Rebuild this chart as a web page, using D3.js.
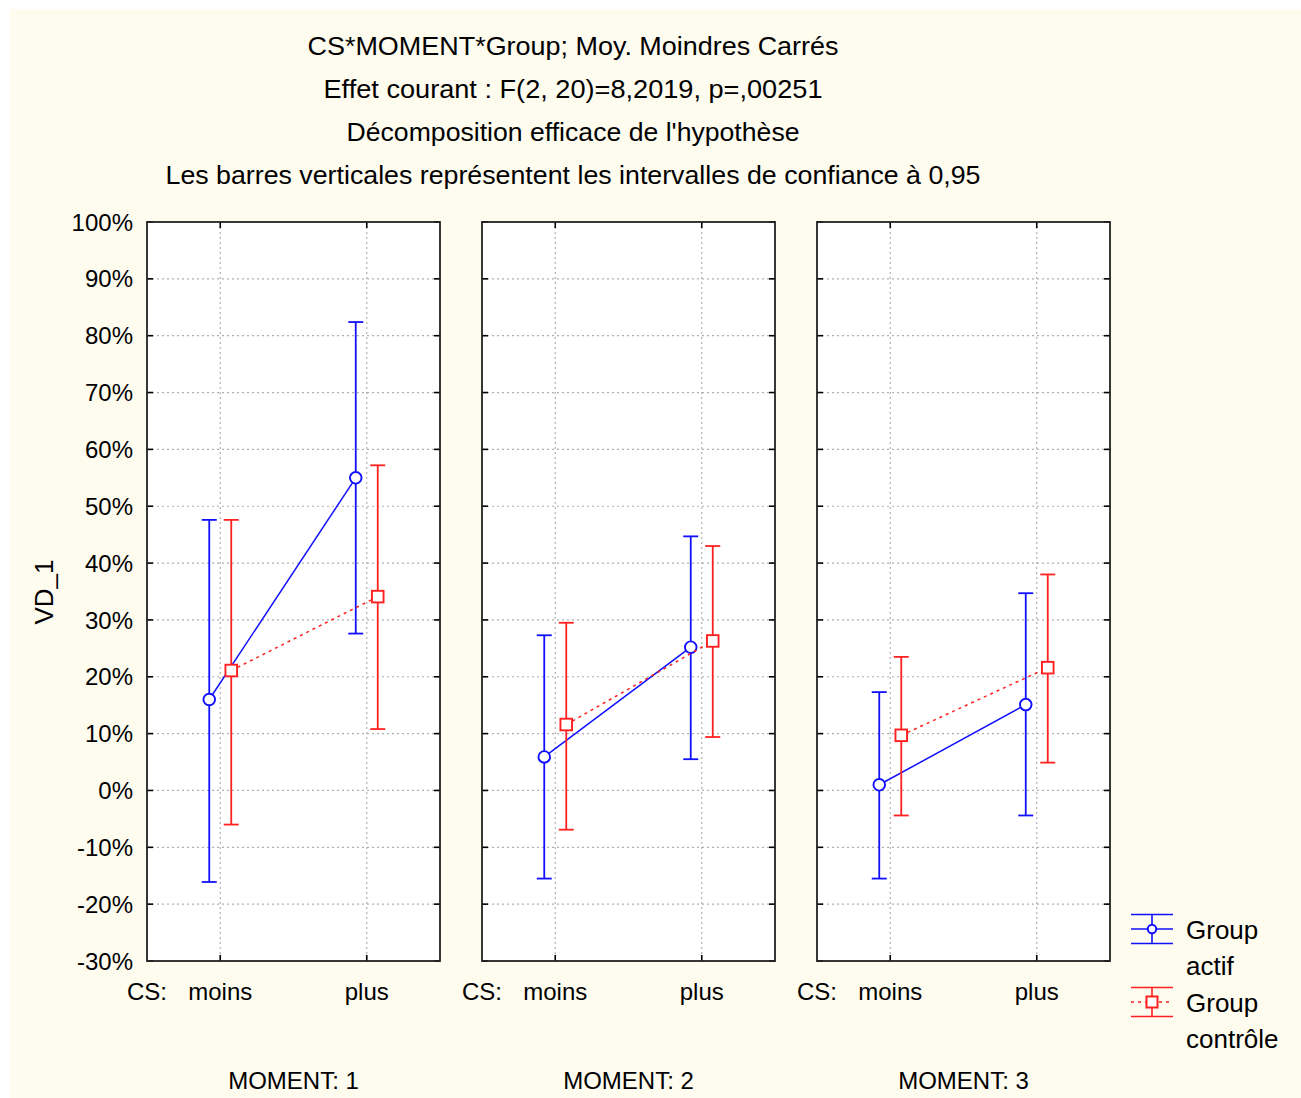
<!DOCTYPE html>
<html>
<head>
<meta charset="utf-8">
<script src="https://cdn.jsdelivr.net/npm/d3@7"></script>
<style>
  html, body { margin: 0; padding: 0; background: #ffffff; }
  svg { display: block; }
  text { font-family: "Liberation Sans", Arial, sans-serif; fill: #000; }
</style>
</head>
<body>
<script>
// ---------- data ----------
const titleLines = [
  "CS*MOMENT*Group; Moy. Moindres Carrés",
  "Effet courant : F(2, 20)=8,2019, p=,00251",
  "Décomposition efficace de l'hypothèse",
  "Les barres verticales représentent les intervalles de confiance à 0,95"
];
const moments = ["MOMENT: 1", "MOMENT: 2", "MOMENT: 3"];
const csLevels = ["moins", "plus"];
const groups = ["Group actif", "Group contrôle"];
const yTicks = [-30, -20, -10, 0, 10, 20, 30, 40, 50, 60, 70, 80, 90, 100];

// order: M1 moins, M1 plus, M2 moins, M2 plus, M3 moins, M3 plus
const actifMean     = [16.0, 55.0,  5.9, 25.2,   1.0, 15.1];
const actifLow      = [-16.1, 27.6, -15.5, 5.5, -15.5, -4.4];
const actifHigh     = [47.6, 82.4, 27.3, 44.7,  17.3, 34.7];
const controleMean  = [21.1, 34.1, 11.6, 26.3,   9.7, 21.6];
const controleLow   = [-6.0, 10.8, -6.9,  9.4,  -4.4,  4.9];
const controleHigh  = [47.6, 57.2, 29.5, 43.0,  23.5, 38.0];

// ---------- layout ----------
const W = 1301, H = 1098;
const plotTop = 222, plotBottom = 961, plotLeft = 147, plotRight = 1110;
const BLUE = "#1010ff", RED = "#ff2020";

const svg = d3.select("body").append("svg").attr("width", W).attr("height", H);
svg.append("rect").attr("x", 10).attr("y", 9).attr("width", W - 10).attr("height", H - 9).attr("fill", "#fefbef");

// titles
const titleWidths = [531, 499, 453, 815];
const titleBase = [55, 98, 141, 184];
titleLines.forEach((t, i) => {
  svg.append("text").attr("x", 573).attr("y", titleBase[i]).attr("text-anchor", "middle")
    .attr("font-size", 26).attr("textLength", titleWidths[i]).attr("lengthAdjust", "spacingAndGlyphs").text(t);
});

const y = d3.scaleLinear().domain([-30, 100]).range([plotBottom, plotTop]);
const panelScale = d3.scaleBand().domain(moments).range([plotLeft, plotRight]).paddingInner(42 / 335).paddingOuter(0);
const bw = panelScale.bandwidth();
const xIn = d3.scalePoint().domain(csLevels).range([0, bw]).padding(0.5);

// y axis labels
svg.append("g").selectAll("text").data(yTicks).join("text")
  .attr("x", 133).attr("y", d => y(d)).attr("dy", "0.36em").attr("text-anchor", "end")
  .attr("font-size", 24).text(d => d + "%");

svg.append("text").attr("transform", "translate(53,592) rotate(-90)").attr("text-anchor", "middle")
  .attr("font-size", 26).text("VD_1");

const series = [
  { name: groups[0], color: BLUE, mean: actifMean, low: actifLow, high: actifHigh, off: -11, dash: null, shape: "circle" },
  { name: groups[1], color: RED, mean: controleMean, low: controleLow, high: controleHigh, off: 11, dash: "3,4", shape: "square" }
];

moments.forEach((m, pi) => {
  const x0 = panelScale(m);
  const g = svg.append("g").attr("transform", `translate(${x0},0)`);
  g.append("rect").attr("x", 0).attr("y", plotTop).attr("width", bw).attr("height", plotBottom - plotTop).attr("fill", "#ffffff");

  // grid
  g.selectAll(".hg").data(yTicks.slice(1, -1)).join("line")
    .attr("x1", 0).attr("x2", bw).attr("y1", d => y(d)).attr("y2", d => y(d))
    .attr("stroke", "#b0b0b0").attr("stroke-width", 1.2).attr("stroke-dasharray", "2,3");
  g.selectAll(".vg").data(csLevels).join("line")
    .attr("x1", d => xIn(d)).attr("x2", d => xIn(d)).attr("y1", plotTop).attr("y2", plotBottom)
    .attr("stroke", "#b0b0b0").attr("stroke-width", 1.2).attr("stroke-dasharray", "2,3");

  // tick marks
  const tl = 6;
  g.selectAll(".tl").data(yTicks).join("line")
    .attr("x1", 0).attr("x2", tl).attr("y1", d => y(d)).attr("y2", d => y(d)).attr("stroke", "#000").attr("stroke-width", 1.6);
  g.selectAll(".tr").data(yTicks).join("line")
    .attr("x1", bw - tl).attr("x2", bw).attr("y1", d => y(d)).attr("y2", d => y(d)).attr("stroke", "#000").attr("stroke-width", 1.6);
  g.selectAll(".tt").data(csLevels).join("line")
    .attr("x1", d => xIn(d)).attr("x2", d => xIn(d)).attr("y1", plotTop).attr("y2", plotTop + tl).attr("stroke", "#000").attr("stroke-width", 1.6);
  g.selectAll(".tb").data(csLevels).join("line")
    .attr("x1", d => xIn(d)).attr("x2", d => xIn(d)).attr("y1", plotBottom - tl).attr("y2", plotBottom).attr("stroke", "#000").attr("stroke-width", 1.6);

  // frame
  g.append("rect").attr("x", 0).attr("y", plotTop).attr("width", bw).attr("height", plotBottom - plotTop)
    .attr("fill", "none").attr("stroke", "#222").attr("stroke-width", 1.8);

  // series
  series.forEach(s => {
    const pts = csLevels.map((c, ci) => {
      const k = pi * 2 + ci;
      return { x: xIn(c) + s.off, m: s.mean[k], lo: s.low[k], hi: s.high[k] };
    });
    // connecting line
    g.append("path").datum(pts)
      .attr("d", d3.line().x(d => d.x).y(d => y(d.m)))
      .attr("fill", "none").attr("stroke", s.color).attr("stroke-width", 1.5)
      .attr("stroke-dasharray", s.dash);
    // error bars
    pts.forEach(p => {
      g.append("line").attr("x1", p.x).attr("x2", p.x).attr("y1", y(p.hi)).attr("y2", y(p.lo))
        .attr("stroke", s.color).attr("stroke-width", 1.8);
      [p.hi, p.lo].forEach(v => {
        g.append("line").attr("x1", p.x - 7.5).attr("x2", p.x + 7.5).attr("y1", y(v)).attr("y2", y(v))
          .attr("stroke", s.color).attr("stroke-width", 1.8);
      });
      if (s.shape === "circle") {
        g.append("circle").attr("cx", p.x).attr("cy", y(p.m)).attr("r", 5.8)
          .attr("fill", "#fff").attr("stroke", s.color).attr("stroke-width", 1.9);
      } else {
        g.append("rect").attr("x", p.x - 5.8).attr("y", y(p.m) - 5.8).attr("width", 11.6).attr("height", 11.6)
          .attr("fill", "#fff").attr("stroke", s.color).attr("stroke-width", 1.9);
      }
    });
  });

  // category labels
  g.append("text").attr("x", -20).attr("y", 1000).attr("font-size", 24).text("CS:");
  g.selectAll(".cl").data(csLevels).join("text")
    .attr("x", d => xIn(d)).attr("y", 1000).attr("text-anchor", "middle").attr("font-size", 24).text(d => d);
  g.append("text").attr("x", bw / 2).attr("y", 1089).attr("text-anchor", "middle").attr("font-size", 24).text(m);
});

// legend
const lg = svg.append("g");
const legY = [929, 1002];
const legText = [["Group", "actif"], ["Group", "contrôle"]];
series.forEach((s, i) => {
  const cy = legY[i];
  const cx = 1152;
  lg.append("line").attr("x1", 1131).attr("x2", 1173).attr("y1", cy - 14.5).attr("y2", cy - 14.5).attr("stroke", s.color).attr("stroke-width", 1.6);
  lg.append("line").attr("x1", 1131).attr("x2", 1173).attr("y1", cy + 14.5).attr("y2", cy + 14.5).attr("stroke", s.color).attr("stroke-width", 1.6);
  lg.append("line").attr("x1", cx).attr("x2", cx).attr("y1", cy - 14.5).attr("y2", cy + 14.5).attr("stroke", s.color).attr("stroke-width", 1.6);
  lg.append("line").attr("x1", 1131).attr("x2", 1173).attr("y1", cy).attr("y2", cy).attr("stroke", s.color).attr("stroke-width", 1.6)
    .attr("stroke-dasharray", s.dash);
  if (s.shape === "circle") {
    lg.append("circle").attr("cx", cx).attr("cy", cy).attr("r", 4.2).attr("fill", "#fff").attr("stroke", s.color).attr("stroke-width", 2);
  } else {
    lg.append("rect").attr("x", cx - 5.5).attr("y", cy - 5.5).attr("width", 11).attr("height", 11).attr("fill", "#fff").attr("stroke", s.color).attr("stroke-width", 2);
  }
  lg.append("text").attr("x", 1186).attr("y", cy + 10).attr("font-size", 26).text(legText[i][0]);
  lg.append("text").attr("x", 1186).attr("y", cy + 46).attr("font-size", 26).text(legText[i][1]);
});
</script>
</body>
</html>
